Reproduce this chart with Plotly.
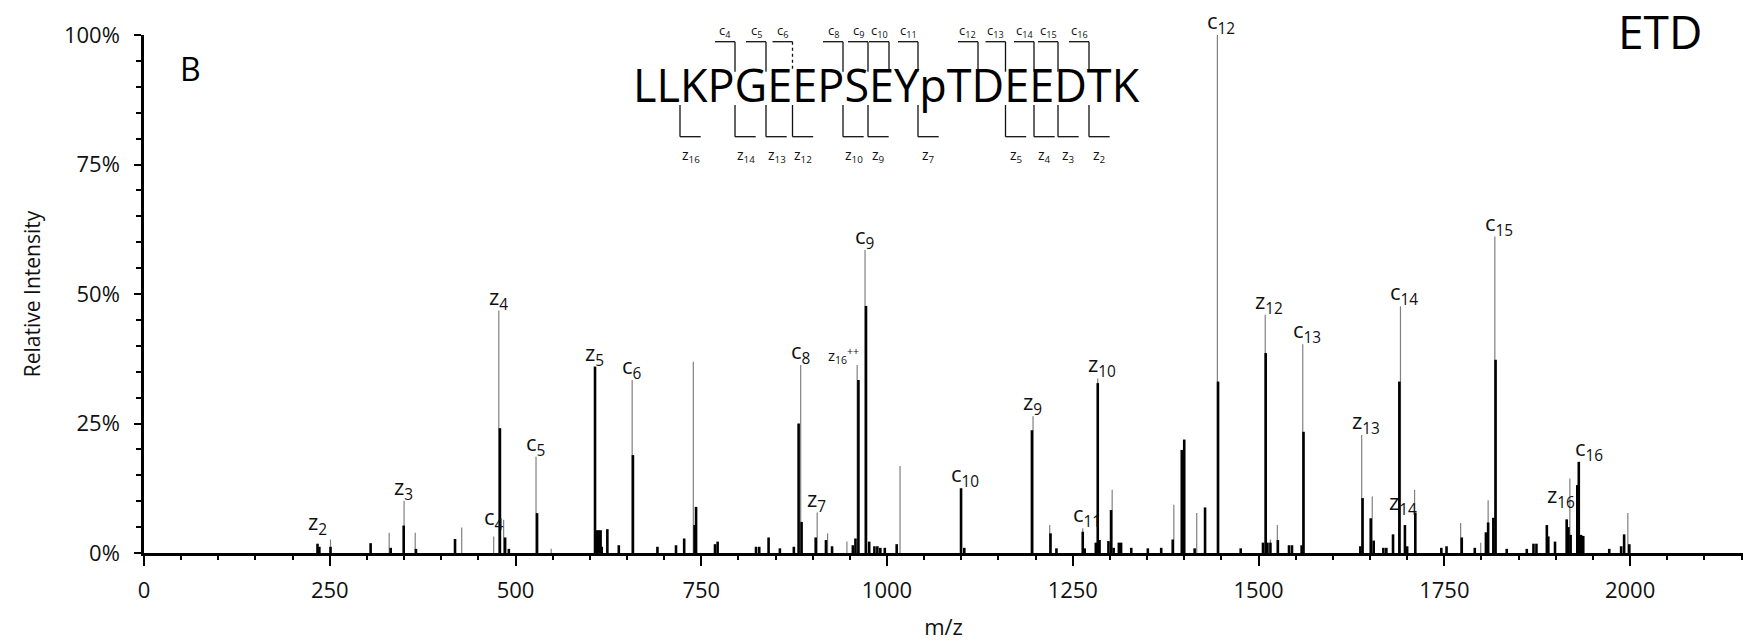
import plotly.graph_objects as go

# ---- spectrum: thick black centroid bars ----
black_mz = [233.5, 236, 251, 305, 332, 349.5, 366, 418.6, 479, 486, 491, 529,
            607, 609.5, 612, 614.5, 616, 623.6, 639, 658, 691, 716, 727, 741, 743,
            768.5, 772, 823.7, 828, 840.6, 855.8, 874.6, 881, 885, 904, 917.8, 926,
            954, 957.5, 961.5, 971.7, 976, 983, 987, 991, 997, 1013, 1099.6, 1104,
            1195, 1220, 1228, 1263.4, 1266, 1281, 1283.6, 1286, 1298, 1301.5, 1305,
            1312, 1315, 1328.7, 1351, 1369, 1384.5, 1396.7, 1400, 1414, 1428, 1445.5,
            1476, 1506, 1509.6, 1512, 1516, 1526, 1541, 1545, 1558, 1560.5, 1637,
            1640, 1651, 1655, 1668, 1672, 1681, 1689.5, 1697, 1700, 1711, 1746, 1753,
            1773.5, 1791, 1806, 1809, 1816, 1819, 1834, 1861, 1870, 1874, 1888, 1890,
            1899, 1914.7, 1917, 1920, 1929, 1931, 1934, 1937, 1972, 1988, 1992, 1999]
black_int = [1.8, 1.2, 1.2, 1.9, 1.0, 5.3, 0.8, 2.7, 24.1, 3.0, 0.8, 7.7,
             36.0, 4.4, 4.4, 4.4, 1.2, 4.6, 1.5, 18.9, 1.2, 1.5, 2.8, 5.4, 8.9,
             1.7, 2.2, 1.2, 1.2, 3.0, 0.9, 1.2, 25.0, 6.0, 3.0, 2.5, 1.3,
             1.5, 2.8, 33.4, 47.7, 2.2, 1.3, 1.3, 1.0, 1.0, 1.7, 12.5, 1.0,
             23.7, 3.8, 0.9, 4.1, 0.9, 2.0, 32.8, 2.5, 2.3, 8.3, 1.0,
             2.0, 2.0, 1.0, 0.9, 1.0, 2.6, 19.9, 21.9, 0.9, 8.8, 33.1,
             0.9, 2.0, 38.6, 2.0, 2.0, 2.5, 1.5, 1.5, 1.5, 23.4, 1.3,
             10.6, 6.7, 2.4, 1.0, 1.0, 3.6, 33.1, 5.4, 1.3, 7.8, 1.0, 1.3,
             3.0, 1.0, 4.0, 5.9, 6.8, 37.3, 0.8, 0.8, 1.8, 1.8, 5.4, 3.2,
             2.2, 6.5, 5.0, 3.5, 13.1, 17.6, 3.5, 3.3, 0.8, 1.3, 3.6, 1.7]

# ---- spectrum: thin grey lines ----
gray_mz = [251, 330, 350, 365, 427.6, 470.6, 477.5, 484, 527.6, 548, 657,
           739.3, 883.8, 906, 920, 946, 959.8, 970.4, 1017.5, 1196.5, 1219,
           1263.4, 1283.6, 1303, 1386, 1416.8, 1444.6, 1509, 1516, 1525.3,
           1559.5, 1638.8, 1653, 1691, 1710, 1772, 1799, 1809, 1818, 1919, 1997]
gray_int = [2.6, 3.9, 10.1, 3.9, 4.9, 3.2, 46.8, 6.4, 18.6, 0.8, 33.4,
            36.9, 36.3, 7.8, 3.8, 2.2, 36.3, 58.5, 16.8, 26.4, 5.4,
            4.8, 33.7, 12.2, 9.3, 7.7, 100.0, 46.0, 2.6, 5.4,
            40.3, 22.8, 10.9, 47.6, 12.2, 5.8, 2.0, 10.2, 61.1, 14.4, 7.7]

# ---- fragment ion assignments: (label, series, m/z of the annotated peak) ----
ion_text = ["z<sub>2</sub>", "z<sub>3</sub>", "c<sub>4</sub>", "z<sub>4</sub>",
            "c<sub>5</sub>", "z<sub>5</sub>", "c<sub>6</sub>", "c<sub>8</sub>",
            "z<sub>7</sub>", "z<sub>16</sub><sup>++</sup>", "c<sub>9</sub>",
            "c<sub>10</sub>", "z<sub>9</sub>", "c<sub>11</sub>", "z<sub>10</sub>",
            "c<sub>12</sub>", "z<sub>12</sub>", "c<sub>13</sub>", "z<sub>13</sub>",
            "c<sub>14</sub>", "z<sub>14</sub>", "c<sub>15</sub>", "z<sub>16</sub>",
            "c<sub>16</sub>"]
ion_series = ["black", "gray", "gray", "gray", "gray", "black", "gray", "gray",
              "gray", "gray", "gray", "black", "gray", "gray", "gray",
              "gray", "gray", "gray", "gray", "gray", "black", "gray", "black",
              "black"]
ion_mz = [233.5, 350, 470.6, 477.5, 527.6, 607, 657, 883.8, 906, 959.8, 970.4,
          1099.6, 1196.5, 1263.4, 1283.6, 1444.6, 1509, 1559.5, 1638.8, 1691,
          1697, 1818, 1914.7, 1931]

# ---- peptide sequence and the fragments observed ----
sequence = ["L", "L", "K", "P", "G", "E", "E", "P", "S", "E", "Y", "pT",
            "D", "E", "E", "D", "T", "K"]
c_observed = [4, 5, 6, 8, 9, 10, 11, 12, 13, 14, 15, 16]
z_observed = [16, 14, 13, 12, 10, 9, 7, 5, 4, 3, 2]

x_ticks = [0, 250, 500, 750, 1000, 1250, 1500, 1750, 2000]
y_ticks = [0, 25, 50, 75, 100]

# ---------------------------------------------------------------------------
W, H = 1743, 641
L, R, T, B = 144, 0, 35, 88
PW, PH = W - L - R, H - T - B


def px(x):
    return (x - L) / PW


def py(y):
    return (H - B - y) / PH


def stems(mz, inten):
    xs, ys = [], []
    for m, i in zip(mz, inten):
        xs += [m, m, None]
        ys += [0, i, None]
    return xs, ys


fig = go.Figure()
gx, gy = stems(gray_mz, gray_int)
fig.add_trace(go.Scatter(x=gx, y=gy, mode="lines",
                         line=dict(color="#808080", width=1.2),
                         hoverinfo="skip", cliponaxis=False))
bx, by = stems(black_mz, black_int)
fig.add_trace(go.Scatter(x=bx, y=by, mode="lines",
                         line=dict(color="#000000", width=2.6),
                         hoverinfo="skip", cliponaxis=False))

LABEL_FONT = dict(family="Open Sans", size=22, color="#111111")
annotations = []
# per-label nudges (pixels) for labels set beside clustered peaks
nudge = {"z<sub>2</sub>": (0, 8), "c<sub>4</sub>": (0, 5),
         "z<sub>14</sub>": (-6, 9), "z<sub>16</sub>": (-10, 10),
         "c<sub>16</sub>": (6, 0)}
lookup = {"black": dict(zip(black_mz, black_int)),
          "gray": dict(zip(gray_mz, gray_int))}
for txt, ser, m in zip(ion_text, ion_series, ion_mz):
    top = lookup[ser][m]
    dx, dy = nudge.get(txt, (0, 0))
    if "++" in txt:
        annotations.append(dict(x=m, y=top, xref="x", yref="y", text=txt,
                                showarrow=False, xanchor="right", yanchor="bottom",
                                xshift=4 + dx, yshift=-4 + dy,
                                font=dict(family="Open Sans", size=15, color="#111111")))
    else:
        annotations.append(dict(x=m, y=top, xref="x", yref="y", text=txt,
                                showarrow=False, xanchor="left", yanchor="bottom",
                                xshift=-12 + dx, yshift=-6 + dy, font=LABEL_FONT))

# ---- sequence header with cleavage brackets ----
# pixel position of the gap after residue i (i = 1..17)
gap_px = [657, 680, 707, 735, 766, 792.5, 817, 843, 868, 889, 918, 978,
          1005.5, 1034, 1058, 1089, 1112]
n_res = len(sequence)
annotations.append(dict(x=px(886.7), y=py(84), xref="paper", yref="paper",
                        text="".join(sequence), showarrow=False,
                        xanchor="center", yanchor="middle",
                        font=dict(family="Open Sans", size=45, color="#000000")))

shapes = []
LINE = dict(color="#111111", width=1.3)
for n in c_observed:
    gx_ = gap_px[n - 1]
    shapes.append(dict(type="line", xref="paper", yref="paper",
                       x0=px(gx_ - 20), x1=px(gx_), y0=py(41.7), y1=py(41.7), line=LINE))
    shapes.append(dict(type="line", xref="paper", yref="paper",
                       x0=px(gx_), x1=px(gx_), y0=py(41.7), y1=py(71.7),
                       line=dict(LINE, dash="dot") if n == 6 else LINE))
    annotations.append(dict(x=px(gx_ - 10), y=py(31), xref="paper", yref="paper",
                            text="c<sub>%d</sub>" % n, showarrow=False,
                            xanchor="center", yanchor="middle",
                            font=dict(family="Open Sans", size=13, color="#111111")))
for n in z_observed:
    gx_ = gap_px[n_res - n - 1]
    shapes.append(dict(type="line", xref="paper", yref="paper",
                       x0=px(gx_), x1=px(gx_), y0=py(105), y1=py(136.7), line=LINE))
    shapes.append(dict(type="line", xref="paper", yref="paper",
                       x0=px(gx_), x1=px(gx_ + 20.7), y0=py(136.7), y1=py(136.7), line=LINE))
    annotations.append(dict(x=px(gx_ + 10.5), y=py(155), xref="paper", yref="paper",
                            text="z<sub>%d</sub>" % n, showarrow=False,
                            xanchor="center", yanchor="middle",
                            font=dict(family="Open Sans", size=14, color="#111111")))

annotations.append(dict(x=px(190), y=py(68.5), xref="paper", yref="paper", text="B",
                        showarrow=False, xanchor="center", yanchor="middle",
                        font=dict(family="Open Sans", size=32, color="#000000")))
annotations.append(dict(x=px(1659.5), y=py(30.5), xref="paper", yref="paper", text="ETD",
                        showarrow=False, xanchor="center", yanchor="middle",
                        font=dict(family="Open Sans", size=46, color="#000000")))

fig.update_layout(
    width=W, height=H,
    margin=dict(l=L, r=R, t=T, b=B, pad=0),
    paper_bgcolor="white", plot_bgcolor="white",
    showlegend=False,
    font=dict(family="Open Sans", color="#111111"),
    annotations=annotations,
    shapes=shapes,
    xaxis=dict(
        range=[0, 2152], tickmode="array", tickvals=x_ticks,
        ticktext=[str(v) for v in x_ticks],
        ticks="outside", ticklen=10, tickwidth=2, tickcolor="#000000",
        showline=True, linecolor="#000000", linewidth=2.5,
        showgrid=False, zeroline=False,
        tickfont=dict(size=22, color="#111111"), ticklabelstandoff=6,
        minor=dict(tickmode="linear", tick0=0, dtick=50, ticks="outside",
                   ticklen=4, tickwidth=2, tickcolor="#000000", showgrid=False),
        title=dict(text="m/z", font=dict(size=22, color="#111111"), standoff=20),
    ),
    yaxis=dict(
        range=[0, 100], tickmode="array", tickvals=y_ticks,
        ticktext=["%d%%" % v for v in y_ticks],
        ticks="outside", ticklen=7, tickwidth=2, tickcolor="#000000",
        showline=True, linecolor="#000000", linewidth=2.5,
        showgrid=False, zeroline=False,
        tickfont=dict(size=22, color="#111111"), ticklabelstandoff=10,
        minor=dict(tickmode="linear", tick0=0, dtick=5, ticks="outside",
                   ticklen=5, tickwidth=2, tickcolor="#000000", showgrid=False),
        title=dict(text="Relative Intensity", font=dict(size=21, color="#111111"),
                   standoff=18),
    ),
)

fig.write_html("out.html")
